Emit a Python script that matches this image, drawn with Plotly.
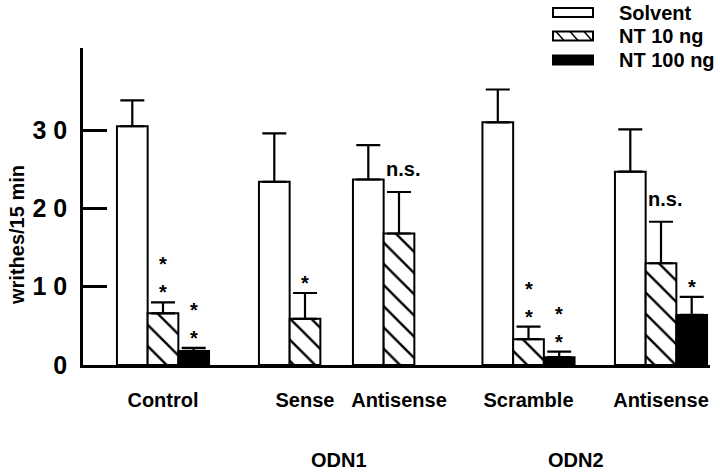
import plotly.graph_objects as go

# ---- data ----
categories = ["Control", "Sense", "Antisense", "Scramble", "Antisense"]
group_pos = [80, 222, 316, 445.5, 578]          # group centres on the x scale
series_names = ["Solvent", "NT 10 ng", "NT 100 ng"]
solvent = [30.5, 23.4, 23.7, 31.0, 24.7]
solvent_err = [3.3, 6.2, 4.4, 4.2, 5.4]
nt10 = [6.6, 5.9, 16.8, 3.3, 13.0]
nt10_err = [1.4, 3.3, 5.3, 1.6, 5.3]
nt100 = [1.8, None, None, 1.0, 6.4]
nt100_err = [0.4, None, None, 0.7, 2.3]
sig_nt10 = ["**", "*", "n.s.", "**", "n.s."]
sig_nt100 = ["**", None, None, "**", "*"]
odn_labels = ["ODN1", "ODN2"]
odn_pos = [256, 493]
ytick_vals = [0, 10, 20, 30]
ytick_text = ["0", "1 0", "2 0", "3 0"]

FONT = "Liberation Sans"
W = 30.7  # bar width in x units
L, R, T, B = 83, 10, 48, 111
FIG_W, FIG_H = 720, 476
PW, PH = FIG_W - L - R, FIG_H - T - B


def px(xp):
    return (xp - L) / PW


def py(yp):
    return (FIG_H - B - yp) / PH


fig = go.Figure()
styles = [
    dict(marker=dict(color="white", line=dict(color="black", width=2))),
    dict(marker=dict(color="white", line=dict(color="black", width=2),
                     pattern=dict(shape="\\", fgcolor="black", bgcolor="white",
                                  fgopacity=1, size=15, solidity=0.16))),
    dict(marker=dict(color="black", line=dict(color="black", width=2))),
]
vals = [solvent, nt10, nt100]
errs = [solvent_err, nt10_err, nt100_err]
offsets = [-1.5 * W, -0.5 * W, 0.5 * W]
for i in range(3):
    fig.add_trace(go.Bar(
        x=group_pos, y=vals[i], name=series_names[i], width=W, offset=offsets[i],
        error_y=dict(type="data", symmetric=False, array=errs[i],
                     arrayminus=[0] * 5, color="black", thickness=2.2, width=12),
        showlegend=False, **styles[i]))

annos = []
# significance marks
for j in range(5):
    for sig, v, e, k in ((sig_nt10[j], nt10[j], nt10_err[j], 1),
                         (sig_nt100[j], nt100[j], nt100_err[j], 2)):
        if not sig:
            continue
        xc = group_pos[j] + offsets[k] + W / 2
        top = v + e
        if sig == "n.s.":
            annos.append(dict(x=xc + 4, y=top, xref="x", yref="y", text="n.s.",
                              showarrow=False, yanchor="bottom", yshift=10,
                              font=dict(family=FONT, size=20, weight="bold", color="black")))
        else:
            for n in range(len(sig)):
                annos.append(dict(x=xc, y=top, xref="x", yref="y", text="*",
                                  showarrow=False, yanchor="middle", yshift=10 + 28 * n,
                                  font=dict(family=FONT, size=20, weight="bold", color="black")))

for lab, xo in zip(odn_labels, odn_pos):
    annos.append(dict(x=xo, y=py(460), xref="x", yref="paper", text=lab, showarrow=False,
                      xanchor="center", yanchor="middle",
                      font=dict(family=FONT, size=20, weight="bold", color="black")))

annos.append(dict(x=px(17), y=py(235), xref="paper", yref="paper", text="writhes/15 min",
                  textangle=-90, showarrow=False, xanchor="center", yanchor="middle",
                  font=dict(family=FONT, size=20, weight="bold", color="black")))

# custom legend
shapes = []
rows = [12.5, 36, 60]
bx0, bx1, bh = 553, 593, 9
for r, name in zip(rows, series_names):
    fill = "black" if name == "NT 100 ng" else "white"
    shapes.append(dict(type="rect", xref="paper", yref="paper",
                       x0=px(bx0), x1=px(bx1), y0=py(r + bh / 2), y1=py(r - bh / 2),
                       line=dict(color="black", width=2), fillcolor=fill))
    annos.append(dict(x=px(617), y=py(r), xref="paper", yref="paper", text=name,
                      showarrow=False, xanchor="left", yanchor="middle",
                      font=dict(family=FONT, size=20, weight="bold", color="black")))
# hatch for NT 10 legend box
r = rows[1]
path = ""
for xs in [556, 570, 584]:
    path += f"M{px(xs)},{py(r - bh / 2)} L{px(xs + 8)},{py(r + bh / 2)} "
shapes.append(dict(type="path", xref="paper", yref="paper", path=path,
                   line=dict(color="black", width=1.5)))

fig.update_layout(
    width=FIG_W, height=FIG_H,
    margin=dict(l=L, r=R, t=T, b=B),
    plot_bgcolor="white", paper_bgcolor="white",
    barmode="overlay",
    font=dict(family=FONT, color="black", weight="bold"),
    annotations=annos, shapes=shapes,
    xaxis=dict(range=[0, PW], showgrid=False, zeroline=False, showline=True,
               linecolor="black", linewidth=3, tickvals=group_pos, ticktext=categories,
               ticks="", ticklabelstandoff=15,
               tickfont=dict(family=FONT, size=20, weight="bold", color="black")),
    yaxis=dict(range=[0, 40.5], showgrid=False, zeroline=False, showline=True,
               linecolor="black", linewidth=2.5, tickvals=ytick_vals, ticktext=ytick_text,
               ticks="inside", ticklen=24, tickwidth=2.5, tickcolor="black",
               ticklabelstandoff=8,
               tickfont=dict(family=FONT, size=25, weight="bold", color="black")),
)

fig.write_html("out.html", config={"displayModeBar": False},
               post_script="document.body.style.margin='0';")
